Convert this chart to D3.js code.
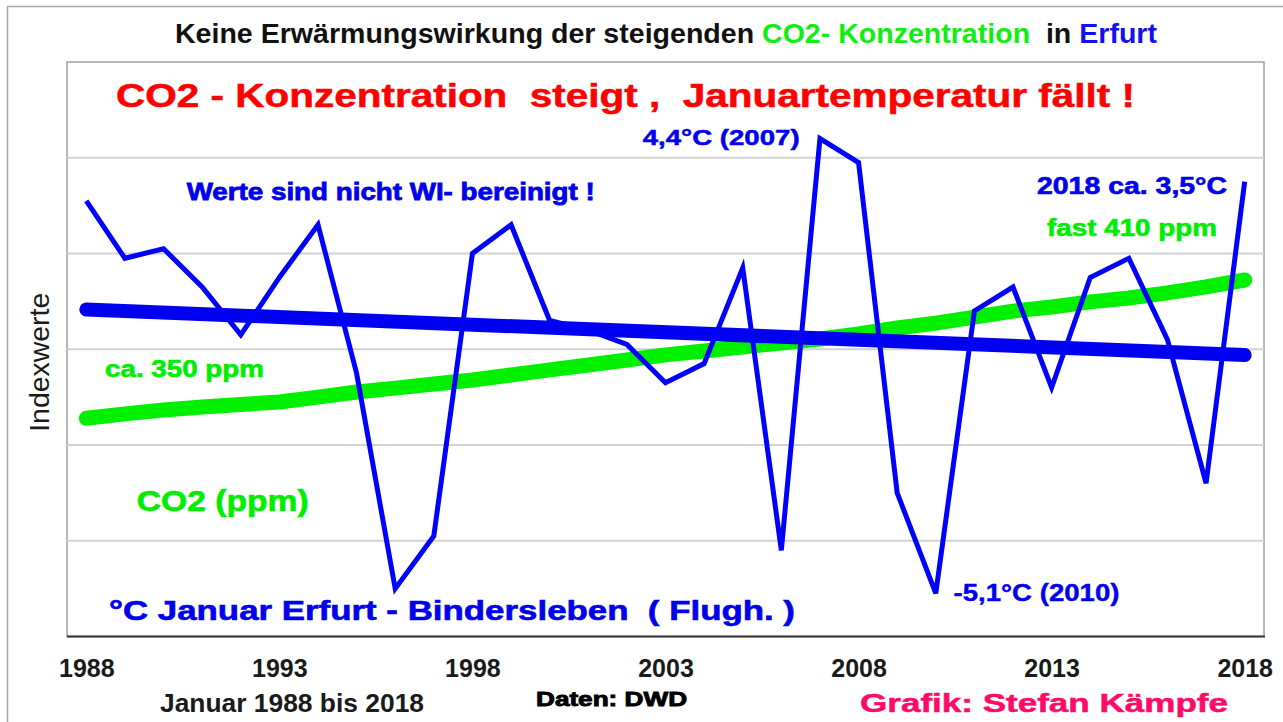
<!DOCTYPE html>
<html>
<head>
<meta charset="utf-8">
<script src="https://cdn.jsdelivr.net/npm/d3@7"></script>
<style>
  html, body { margin: 0; padding: 0; background: #fff; }
  svg { display: block; }
  text { font-family: "Liberation Sans", Arial, sans-serif; white-space: pre; }
</style>
</head>
<body>
<svg id="chart" width="1283" height="722"></svg>
<script>
// ---- data ----
const years = [1988,1989,1990,1991,1992,1993,1994,1995,1996,1997,1998,1999,2000,2001,2002,2003,2004,2005,2006,2007,2008,2009,2010,2011,2012,2013,2014,2015,2016,2017,2018];
const januaryTemp = [3.1,1.9,2.1,1.3,0.3,1.5,2.6,-0.5,-5.0,-3.9,2.0,2.6,0.6,0.4,0.1,-0.7,-0.3,1.7,-4.2,4.4,3.9,-3.0,-5.1,0.8,1.3,-0.8,1.5,1.9,0.2,-2.8,3.5];
const co2ppm = [350.0,351.9,353.6,354.9,356.0,357.1,359.2,361.4,363.1,364.9,366.6,368.8,371.0,373.1,375.3,377.5,379.2,380.9,382.7,384.4,386.6,389.2,391.3,393.9,396.5,398.3,400.5,402.2,404.4,407.0,410.0];
const trendYears = [1988, 2018];
const trendTemp = [0.83, -0.12];
const tickYears = [1988,1993,1998,2003,2008,2013,2018];
const gridValues = [-4,-2,0,2,4];

const svg = d3.select("#chart");
const pLeft = 67, pRight = 1264, pTop = 62, pBottom = 636.5;

const x = d3.scalePoint().domain(years).range([pLeft, pRight]).padding(0.5);
const y = d3.scaleLinear().domain([-6, 6]).range([pBottom, pTop]);
const yCO2 = d3.scaleLinear().domain([350, 410]).range([418.3, 280]);

// outer frame
svg.append("rect").attr("x", 7.5).attr("y", 6.5).attr("width", 1290).attr("height", 730)
  .attr("fill", "#fff").attr("stroke", "#a8a8a8").attr("stroke-width", 1.5);

// plot area
svg.append("rect").attr("x", pLeft).attr("y", pTop).attr("width", pRight - pLeft).attr("height", pBottom - pTop)
  .attr("fill", "#fff").attr("stroke", "#a0a0a0").attr("stroke-width", 1.5);

// gridlines
svg.append("g").selectAll("line").data(gridValues).join("line")
  .attr("x1", pLeft).attr("x2", pRight)
  .attr("y1", d => y(d)).attr("y2", d => y(d))
  .attr("stroke", "#d2d2d2").attr("stroke-width", 2);

// bottom axis line
svg.append("line").attr("x1", pLeft).attr("x2", pRight + 1).attr("y1", pBottom).attr("y2", pBottom)
  .attr("stroke", "#333").attr("stroke-width", 2);

// x axis tick labels
const xAxis = d3.axisBottom(x).tickValues(tickYears).tickSize(0).tickPadding(0);
const gx = svg.append("g").attr("transform", `translate(0,${pBottom})`).call(xAxis);
gx.select(".domain").remove();
gx.selectAll("text")
  .attr("dy", null).attr("y", 676.7 - pBottom)
  .attr("font-size", 25).attr("font-weight", "bold").attr("fill", "#1a1a1a")
  .attr("font-family", "Liberation Sans, Arial, sans-serif");

// CO2 line
svg.append("path").datum(years.map((yr, i) => [yr, co2ppm[i]]))
  .attr("fill", "none").attr("stroke", "#00f000").attr("stroke-width", 15)
  .attr("stroke-linecap", "round").attr("stroke-linejoin", "round")
  .attr("d", d3.line().x(d => x(d[0])).y(d => yCO2(d[1])));

// trend line
svg.append("path").datum(trendYears.map((yr, i) => [yr, trendTemp[i]]))
  .attr("fill", "none").attr("stroke", "#0000f0").attr("stroke-width", 14)
  .attr("stroke-linecap", "round")
  .attr("d", d3.line().x(d => x(d[0])).y(d => y(d[1])));

// temperature line
svg.append("path").datum(years.map((yr, i) => [yr, januaryTemp[i]]))
  .attr("fill", "none").attr("stroke", "#0000ff").attr("stroke-width", 5)
  .attr("stroke-linejoin", "miter")
  .attr("d", d3.line().x(d => x(d[0])).y(d => y(d[1])));

// texts
function txt(str, xx, yy, size, color, width, sw) {
  const t = svg.append("text").attr("x", xx).attr("y", yy)
    .attr("font-size", size).attr("font-weight", "bold").attr("fill", color)
    .text(str);
  if (width) t.attr("textLength", width).attr("lengthAdjust", "spacingAndGlyphs");
  if (sw) t.attr("stroke", color).attr("stroke-width", sw);
  return t;
}

// title
const title = svg.append("text").attr("x", 175).attr("y", 42.7)
  .attr("font-size", 28).attr("font-weight", "bold")
  .attr("textLength", 982).attr("lengthAdjust", "spacingAndGlyphs");
title.append("tspan").attr("fill", "#111").text("Keine Erwärmungswirkung der steigenden ");
title.append("tspan").attr("fill", "#11ee11").text("CO2- Konzentration  ");
title.append("tspan").attr("fill", "#111").text("in ");
title.append("tspan").attr("fill", "#1111ee").text("Erfurt");

txt("CO2 - Konzentration  steigt ,  Januartemperatur fällt !", 116, 107.3, 32.5, "#ff0000", 1019, 0.5);
txt("4,4°C (2007)", 642.7, 145, 22, "#0000ee", 157, 0.5);
txt("Werte sind nicht WI- bereinigt !", 186.7, 200, 24, "#0000ee", 408, 0.8);
txt("2018 ca. 3,5°C", 1037, 194, 23, "#0000ee", 190, 0.6);
txt("fast 410 ppm", 1047, 236, 23, "#00ee00", 170, 0.6);
txt("ca. 350 ppm", 105, 376.7, 23, "#00ee00", 159, 0.6);
txt("CO2 (ppm)", 136.7, 510.7, 29, "#00ee00", 172, 0.6);
txt("°C Januar Erfurt - Bindersleben  ( Flugh. )", 109, 620, 28, "#0000ee", 686, 0.6);
txt("-5,1°C (2010)", 953.5, 600.7, 23, "#0000ee", 166, 0.4);
txt("Januar 1988 bis 2018", 160, 711.7, 26, "#1a1a1a", 264);
txt("Daten: DWD", 536, 706, 20, "#000", 151, 0.9);
txt("Grafik: Stefan Kämpfe", 860, 711.7, 26.5, "#ff0a66", 368, 0.5);

// y label
svg.append("text")
  .attr("transform", "translate(49.3,362.3) rotate(-90)")
  .attr("text-anchor", "middle")
  .attr("font-size", 28).attr("fill", "#1a1a1a")
  .attr("textLength", 139).attr("lengthAdjust", "spacingAndGlyphs")
  .text("Indexwerte");
</script>
</body>
</html>
